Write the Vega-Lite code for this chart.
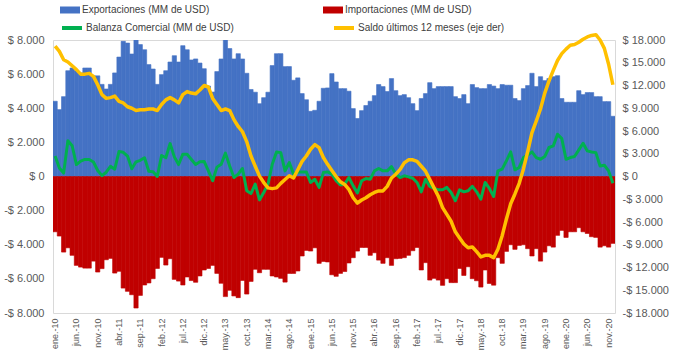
{
  "$schema": "https://vega.github.io/schema/vega-lite/v6.json",
  "width": 562,
  "height": 273,
  "autosize": {"type": "none"},
  "padding": {"left": 53, "top": 40, "right": 60, "bottom": 51},
  "background": "white",
  "config": {
    "view": {"stroke": "#d9d9d9", "strokeWidth": 1},
    "font": "Liberation Sans, sans-serif",
    "axis": {"domain": false, "ticks": false, "grid": false, "labelColor": "#595959", "labelFont": "Liberation Sans, sans-serif", "title": null}
  },
  "data": {"values": [
    {"m":"ene.-10","x":4410,"i":-3240,"b":1200,"s":17200},
    {"m":"feb.-10","x":3920,"i":-3490,"b":500,"s":16500},
    {"m":"mar.-10","x":4680,"i":-4430,"b":200,"s":15400},
    {"m":"abr.-10","x":6200,"i":-4180,"b":2100,"s":15100},
    {"m":"may.-10","x":6360,"i":-4620,"b":1800,"s":14600},
    {"m":"jun.-10","x":6200,"i":-5210,"b":700,"s":14100},
    {"m":"jul.-10","x":6070,"i":-5310,"b":900,"s":13500},
    {"m":"ago.-10","x":6360,"i":-5370,"b":1000,"s":13500},
    {"m":"sep.-10","x":6360,"i":-5370,"b":1000,"s":13600},
    {"m":"oct.-10","x":5900,"i":-4960,"b":850,"s":13200},
    {"m":"nov.-10","x":5900,"i":-5600,"b":350,"s":12100},
    {"m":"dic.-10","x":5400,"i":-5400,"b":50,"s":10800},
    {"m":"ene.-11","x":5130,"i":-4880,"b":250,"s":10300},
    {"m":"feb.-11","x":5400,"i":-4800,"b":600,"s":10400},
    {"m":"mar.-11","x":6070,"i":-5660,"b":430,"s":10600},
    {"m":"abr.-11","x":7000,"i":-5560,"b":1460,"s":9900},
    {"m":"may.-11","x":7920,"i":-6540,"b":1420,"s":9700},
    {"m":"jun.-11","x":7820,"i":-6730,"b":1200,"s":9200},
    {"m":"jul.-11","x":7180,"i":-6930,"b":450,"s":9000},
    {"m":"ago.-11","x":8400,"i":-7710,"b":860,"s":8700},
    {"m":"sep.-11","x":7730,"i":-6970,"b":950,"s":8800},
    {"m":"oct.-11","x":7430,"i":-6360,"b":1100,"s":8800},
    {"m":"nov.-11","x":6560,"i":-6240,"b":310,"s":8900},
    {"m":"dic.-11","x":6300,"i":-5990,"b":280,"s":8900},
    {"m":"ene.-12","x":5400,"i":-5390,"b":0,"s":8700},
    {"m":"feb.-12","x":5970,"i":-4740,"b":1230,"s":9500},
    {"m":"mar.-12","x":6200,"i":-5190,"b":1100,"s":10100},
    {"m":"abr.-12","x":6710,"i":-4820,"b":1930,"s":10400},
    {"m":"may.-12","x":7080,"i":-6030,"b":1150,"s":10100},
    {"m":"jun.-12","x":6710,"i":-6130,"b":700,"s":9700},
    {"m":"jul.-12","x":7670,"i":-6360,"b":1310,"s":10800},
    {"m":"ago.-12","x":7430,"i":-5890,"b":1300,"s":11200},
    {"m":"sep.-12","x":6830,"i":-6100,"b":1000,"s":11000},
    {"m":"oct.-12","x":6890,"i":-6200,"b":700,"s":10900},
    {"m":"nov.-12","x":6650,"i":-5830,"b":860,"s":11400},
    {"m":"dic.-12","x":6320,"i":-5480,"b":880,"s":12000},
    {"m":"ene.-13","x":5300,"i":-5390,"b":330,"s":11800},
    {"m":"feb.-13","x":4950,"i":-5210,"b":-250,"s":10300},
    {"m":"mar.-13","x":6150,"i":-5680,"b":550,"s":9500},
    {"m":"abr.-13","x":6890,"i":-6260,"b":720,"s":8700},
    {"m":"may.-13","x":8300,"i":-7040,"b":1370,"s":8900},
    {"m":"jun.-13","x":7500,"i":-6670,"b":620,"s":8700},
    {"m":"jul.-13","x":6890,"i":-7000,"b":-60,"s":7500},
    {"m":"ago.-13","x":7200,"i":-7100,"b":140,"s":6600},
    {"m":"sep.-13","x":6890,"i":-6090,"b":470,"s":5900},
    {"m":"oct.-13","x":6050,"i":-6890,"b":-840,"s":4600},
    {"m":"nov.-13","x":5100,"i":-6150,"b":-1000,"s":2700},
    {"m":"dic.-13","x":4940,"i":-5440,"b":-450,"s":1350},
    {"m":"ene.-14","x":4270,"i":-5640,"b":-1370,"s":50},
    {"m":"feb.-14","x":4620,"i":-5440,"b":-940,"s":-800},
    {"m":"mar.-14","x":4940,"i":-5440,"b":-450,"s":-1500},
    {"m":"abr.-14","x":6500,"i":-5830,"b":720,"s":-1600},
    {"m":"may.-14","x":7200,"i":-5890,"b":1440,"s":-1500},
    {"m":"jun.-14","x":7200,"i":-5970,"b":1400,"s":-900},
    {"m":"jul.-14","x":6440,"i":-6190,"b":330,"s":-400},
    {"m":"ago.-14","x":6440,"i":-5680,"b":820,"s":100},
    {"m":"sep.-14","x":5640,"i":-5680,"b":140,"s":-200},
    {"m":"oct.-14","x":5780,"i":-5540,"b":270,"s":900},
    {"m":"nov.-14","x":4860,"i":-4660,"b":270,"s":2000},
    {"m":"dic.-14","x":4500,"i":-4330,"b":270,"s":2700},
    {"m":"ene.-15","x":3820,"i":-4370,"b":-350,"s":3600},
    {"m":"feb.-15","x":3880,"i":-4180,"b":-160,"s":4200},
    {"m":"mar.-15","x":4410,"i":-5090,"b":-640,"s":3800},
    {"m":"abr.-15","x":5170,"i":-4980,"b":230,"s":2500},
    {"m":"may.-15","x":5190,"i":-5010,"b":270,"s":1600},
    {"m":"jun.-15","x":6030,"i":-5760,"b":140,"s":800},
    {"m":"jul.-15","x":5540,"i":-5850,"b":-250,"s":0},
    {"m":"ago.-15","x":5150,"i":-5680,"b":-500,"s":-700},
    {"m":"sep.-15","x":5150,"i":-5570,"b":-450,"s":-1050},
    {"m":"oct.-15","x":5000,"i":-5070,"b":-60,"s":-1700},
    {"m":"nov.-15","x":3980,"i":-4760,"b":-550,"s":-2800},
    {"m":"dic.-15","x":3400,"i":-4370,"b":-970,"s":-3500},
    {"m":"ene.-16","x":3860,"i":-4160,"b":-250,"s":-3100},
    {"m":"feb.-16","x":4160,"i":-4160,"b":-120,"s":-2800},
    {"m":"mar.-16","x":4410,"i":-4620,"b":-160,"s":-2400},
    {"m":"abr.-16","x":4740,"i":-4470,"b":330,"s":-2100},
    {"m":"may.-16","x":5390,"i":-4900,"b":470,"s":-1900},
    {"m":"jun.-16","x":5270,"i":-5090,"b":330,"s":-1900},
    {"m":"jul.-16","x":4980,"i":-4760,"b":330,"s":-1300},
    {"m":"ago.-16","x":5740,"i":-5210,"b":580,"s":-200},
    {"m":"sep.-16","x":5030,"i":-4820,"b":140,"s":300},
    {"m":"oct.-16","x":4740,"i":-4800,"b":-60,"s":900},
    {"m":"nov.-16","x":4800,"i":-4760,"b":40,"s":1800},
    {"m":"dic.-16","x":4620,"i":-4620,"b":-20,"s":2200},
    {"m":"ene.-17","x":4270,"i":-4350,"b":-100,"s":2200},
    {"m":"feb.-17","x":3860,"i":-4160,"b":-350,"s":2000},
    {"m":"mar.-17","x":4570,"i":-5480,"b":-900,"s":1350},
    {"m":"abr.-17","x":4860,"i":-5050,"b":-160,"s":700},
    {"m":"may.-17","x":5500,"i":-6070,"b":-580,"s":-400},
    {"m":"jun.-17","x":5150,"i":-5970,"b":-700,"s":-1500},
    {"m":"jul.-17","x":5270,"i":-6070,"b":-780,"s":-2600},
    {"m":"ago.-17","x":5270,"i":-6380,"b":-780,"s":-4100},
    {"m":"sep.-17","x":5270,"i":-5990,"b":-640,"s":-5000},
    {"m":"oct.-17","x":5270,"i":-6220,"b":-940,"s":-5900},
    {"m":"nov.-17","x":4680,"i":-6220,"b":-1420,"s":-7300},
    {"m":"dic.-17","x":4570,"i":-5390,"b":-780,"s":-8100},
    {"m":"ene.-18","x":4800,"i":-5800,"b":-900,"s":-8900},
    {"m":"feb.-18","x":4270,"i":-5290,"b":-840,"s":-9400},
    {"m":"mar.-18","x":5390,"i":-5990,"b":-580,"s":-9300},
    {"m":"abr.-18","x":5210,"i":-6110,"b":-900,"s":-9900},
    {"m":"may.-18","x":5150,"i":-6480,"b":-1330,"s":-10600},
    {"m":"jun.-18","x":5150,"i":-5480,"b":-350,"s":-10400},
    {"m":"jul.-18","x":5390,"i":-6270,"b":-700,"s":-10400},
    {"m":"ago.-18","x":5300,"i":-6370,"b":-1170,"s":-10700},
    {"m":"sep.-18","x":5150,"i":-4760,"b":330,"s":-9600},
    {"m":"oct.-18","x":5390,"i":-5090,"b":430,"s":-7800},
    {"m":"nov.-18","x":5350,"i":-4390,"b":920,"s":-5600},
    {"m":"dic.-18","x":5350,"i":-4000,"b":1440,"s":-3600},
    {"m":"ene.-19","x":4570,"i":-4270,"b":390,"s":-2300},
    {"m":"feb.-19","x":4450,"i":-4040,"b":530,"s":-900},
    {"m":"mar.-19","x":5150,"i":-4000,"b":1110,"s":1000},
    {"m":"abr.-19","x":5330,"i":-4230,"b":1250,"s":3300},
    {"m":"may.-19","x":6050,"i":-4660,"b":1440,"s":5800},
    {"m":"jun.-19","x":5270,"i":-4230,"b":1110,"s":7300},
    {"m":"jul.-19","x":5850,"i":-4960,"b":1010,"s":8900},
    {"m":"ago.-19","x":5620,"i":-4430,"b":1170,"s":11000},
    {"m":"sep.-19","x":5740,"i":-4060,"b":1700,"s":12600},
    {"m":"oct.-19","x":5850,"i":-4140,"b":1790,"s":14000},
    {"m":"nov.-19","x":5910,"i":-3450,"b":2480,"s":15300},
    {"m":"dic.-19","x":4570,"i":-3160,"b":2220,"s":16200},
    {"m":"ene.-20","x":4350,"i":-3570,"b":1010,"s":16800},
    {"m":"feb.-20","x":4350,"i":-3240,"b":1110,"s":17300},
    {"m":"mar.-20","x":4350,"i":-3240,"b":1170,"s":17400},
    {"m":"abr.-20","x":5030,"i":-3000,"b":1560,"s":17700},
    {"m":"may.-20","x":4800,"i":-3240,"b":1950,"s":18100},
    {"m":"jun.-20","x":4920,"i":-3340,"b":1500,"s":18400},
    {"m":"jul.-20","x":4920,"i":-3530,"b":1440,"s":18600},
    {"m":"ago.-20","x":4680,"i":-3570,"b":1400,"s":18700},
    {"m":"sep.-20","x":4680,"i":-4140,"b":620,"s":18000},
    {"m":"oct.-20","x":4390,"i":-4060,"b":660,"s":16900},
    {"m":"nov.-20","x":4390,"i":-4140,"b":330,"s":14800},
    {"m":"dic.-20","x":3530,"i":-3920,"b":-390,"s":12100}
  ]},
  "encoding": {
    "x": {
      "field": "m", "type": "ordinal", "sort": null,
      "scale": {"paddingInner": 0, "paddingOuter": 0},
      "axis": {
        "values": ["ene.-10","jun.-10","nov.-10","abr.-11","sep.-11","feb.-12","jul.-12","dic.-12","may.-13","oct.-13","mar.-14","ago.-14","ene.-15","jun.-15","nov.-15","abr.-16","sep.-16","feb.-17","jul.-17","dic.-17","may.-18","oct.-18","mar.-19","ago.-19","ene.-20","jun.-20","nov.-20"],
        "labelAngle": -90, "labelFontSize": 9, "labelPadding": 5, "labelOverlap": false
      }
    }
  },
  "layer": [
    {
      "layer": [
        {
          "mark": {"type": "bar", "clip": true, "stroke": "#4472C4", "strokeWidth": 0.6},
          "encoding": {
            "y": {"field": "x", "type": "quantitative",
              "scale": {"domain": [-8000, 8000], "nice": false},
              "axis": {"orient": "left", "values": [-8000,-6000,-4000,-2000,0,2000,4000,6000,8000], "labelFontSize": 11, "labelPadding": 9, "labelOverlap": false,
                "labelExpr": "datum.value < 0 ? '-$ ' + replace(format(-datum.value, ','), ',', '.') : '$ ' + replace(format(datum.value, ','), ',', '.')"}},
            "fill": {"datum": "Exportaciones (MM de USD)", "type": "nominal",
              "scale": {"domain": ["Exportaciones (MM de USD)", "Importaciones (MM de USD)"], "range": ["#4472C4", "#C00000"]},
              "legend": {
                "orient": "none", "legendX": 7, "legendY": -40, "direction": "horizontal", "columns": 2, "columnPadding": 113,
                "title": null, "symbolType": "M-1,-0.35H1V0.35H-1Z", "symbolSize": 400, "symbolStrokeWidth": 0,
                "labelFontSize": 10, "labelColor": "#404040", "labelOffset": 2, "labelLimit": 300,
                "labelFont": "Liberation Sans, sans-serif"
              }}
          }
        },
        {
          "mark": {"type": "bar", "clip": true, "stroke": "#C00000", "strokeWidth": 0.6},
          "encoding": {
            "y": {"field": "i", "type": "quantitative",
              "axis": {"orient": "left", "values": [-8000,-6000,-4000,-2000,0,2000,4000,6000,8000], "labelFontSize": 11, "labelPadding": 9, "labelOverlap": false,
                "labelExpr": "datum.value < 0 ? '-$ ' + replace(format(-datum.value, ','), ',', '.') : '$ ' + replace(format(datum.value, ','), ',', '.')"}},
            "fill": {"datum": "Importaciones (MM de USD)", "type": "nominal"}
          }
        },
        {
          "mark": {"type": "rule", "color": "white", "strokeWidth": 1},
          "encoding": {"y": {"datum": 0, "type": "quantitative",
              "axis": {"orient": "left", "values": [-8000,-6000,-4000,-2000,0,2000,4000,6000,8000], "labelFontSize": 11, "labelPadding": 9, "labelOverlap": false,
                "labelExpr": "datum.value < 0 ? '-$ ' + replace(format(-datum.value, ','), ',', '.') : '$ ' + replace(format(datum.value, ','), ',', '.')"}}}
        },
        {
          "mark": {"type": "line", "strokeWidth": 3, "strokeJoin": "round"},
          "encoding": {
            "y": {"field": "b", "type": "quantitative",
              "axis": {"orient": "left", "values": [-8000,-6000,-4000,-2000,0,2000,4000,6000,8000], "labelFontSize": 11, "labelPadding": 9, "labelOverlap": false,
                "labelExpr": "datum.value < 0 ? '-$ ' + replace(format(-datum.value, ','), ',', '.') : '$ ' + replace(format(datum.value, ','), ',', '.')"}},
            "stroke": {"datum": "Balanza Comercial (MM de USD)", "type": "nominal",
              "scale": {"domain": ["Balanza Comercial (MM de USD)", "Saldo últimos 12 meses (eje der)"], "range": ["#00B050", "#FFC000"]},
              "legend": {
                "orient": "none", "legendX": 7, "legendY": -24, "direction": "horizontal", "columns": 2, "columnPadding": 92,
                "title": null, "symbolType": "stroke", "symbolSize": 400, "symbolStrokeWidth": 4,
                "labelFontSize": 10, "labelColor": "#404040", "labelOffset": 2, "labelLimit": 300,
                "labelFont": "Liberation Sans, sans-serif"
              }}
          }
        }
      ]
    },
    {
      "mark": {"type": "line", "strokeWidth": 3.5, "strokeJoin": "round"},
      "encoding": {
        "y": {"field": "s", "type": "quantitative",
          "scale": {"domain": [-18000, 18000], "nice": false},
          "axis": {"orient": "right", "values": [-18000,-15000,-12000,-9000,-6000,-3000,0,3000,6000,9000,12000,15000,18000], "labelFontSize": 11, "labelPadding": 7, "labelOverlap": false,
            "labelExpr": "datum.value < 0 ? '-$ ' + replace(format(-datum.value, ','), ',', '.') : '$ ' + replace(format(datum.value, ','), ',', '.')"}},
        "stroke": {"datum": "Saldo últimos 12 meses (eje der)", "type": "nominal"}
      }
    }
  ],
  "resolve": {"scale": {"y": "independent"}}
}
